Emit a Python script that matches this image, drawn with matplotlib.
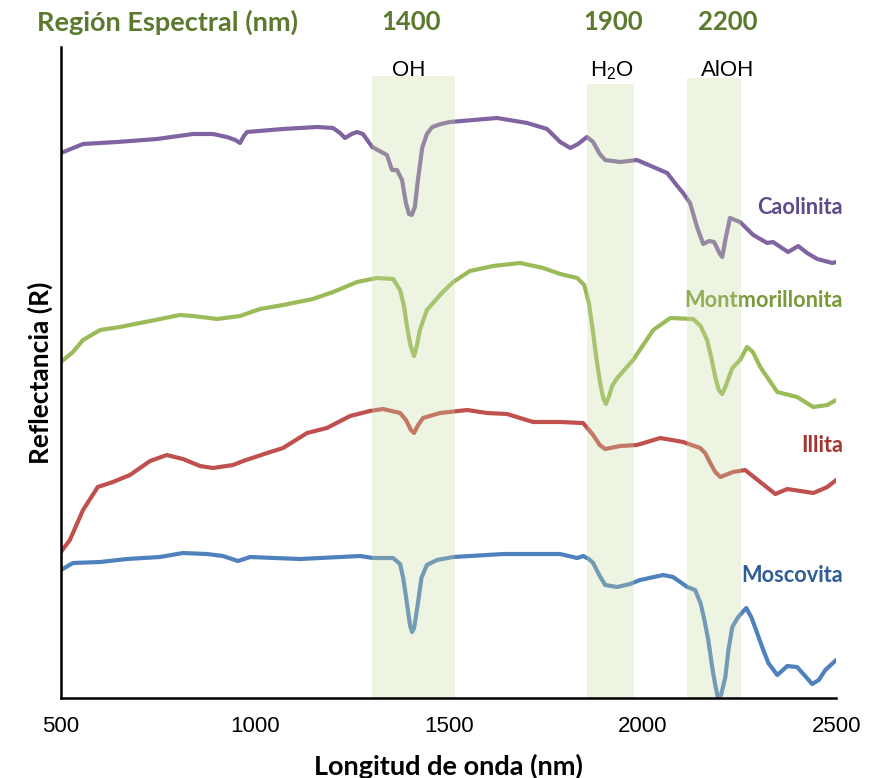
#!/usr/bin/env python3
"""Espectros de reflectancia de arcillas con regiones de absorción marcadas."""

import matplotlib
matplotlib.use("Agg")
import matplotlib.pyplot as plt

# --- datos (longitud de onda en nm, reflectancia desplazada) ---
caol_nm = [500, 557, 645, 748, 841, 892, 928, 950, 962, 972, 980, 1073, 1161, 1202,
           1220, 1233, 1250, 1264, 1279, 1303, 1341, 1354, 1367, 1380, 1390, 1398,
           1405, 1413, 1420, 1432, 1444, 1458, 1480, 1504, 1625, 1703, 1754, 1788,
           1814, 1834, 1857, 1873, 1890, 1904, 1943, 1986, 2028, 2064, 2090, 2105,
           2123, 2141, 2157, 2172, 2185, 2200, 2206, 2215, 2226, 2252, 2286, 2322,
           2337, 2360, 2376, 2402, 2425, 2451, 2490, 2500]
caol_r = [5.45, 5.54, 5.56, 5.59, 5.64, 5.64, 5.61, 5.58, 5.55, 5.62, 5.66, 5.69,
          5.71, 5.70, 5.65, 5.60, 5.64, 5.66, 5.64, 5.51, 5.43, 5.28, 5.28, 5.18,
          4.95, 4.84, 4.83, 4.91, 5.15, 5.50, 5.64, 5.71, 5.74, 5.76, 5.80, 5.75,
          5.69, 5.56, 5.50, 5.54, 5.61, 5.56, 5.44, 5.38, 5.36, 5.38, 5.31, 5.25,
          5.12, 5.05, 4.95, 4.71, 4.54, 4.57, 4.56, 4.44, 4.41, 4.60, 4.80, 4.76,
          4.63, 4.55, 4.56, 4.50, 4.46, 4.52, 4.45, 4.39, 4.35, 4.36]

mont_nm = [500, 531, 557, 601, 652, 730, 807, 841, 903, 962, 1014, 1073, 1150, 1202,
           1264, 1315, 1357, 1375, 1385, 1393, 1402, 1411, 1418, 1426, 1444, 1460,
           1485, 1512, 1555, 1615, 1685, 1744, 1788, 1832, 1850, 1862, 1873, 1882,
           1891, 1899, 1906, 1914, 1922, 1935, 1976, 2028, 2072, 2131, 2150, 2167,
           2178, 2188, 2197, 2206, 2215, 2232, 2252, 2270, 2285, 2304, 2348, 2399,
           2441, 2477, 2500]
mont_r = [3.36, 3.46, 3.58, 3.68, 3.71, 3.77, 3.83, 3.82, 3.79, 3.82, 3.89, 3.93,
          3.99, 4.06, 4.16, 4.20, 4.19, 4.08, 3.92, 3.71, 3.52, 3.42, 3.52, 3.68,
          3.88, 3.95, 4.06, 4.16, 4.27, 4.32, 4.35, 4.30, 4.24, 4.20, 4.13, 3.95,
          3.65, 3.38, 3.15, 3.00, 2.94, 3.02, 3.12, 3.20, 3.38, 3.68, 3.80, 3.79,
          3.72, 3.58, 3.40, 3.21, 3.08, 3.04, 3.12, 3.30, 3.38, 3.51, 3.46, 3.31,
          3.06, 3.01, 2.91, 2.93, 2.98]

illi_nm = [500, 523, 557, 595, 634, 678, 730, 773, 815, 859, 892, 944, 970, 1032,
           1073, 1135, 1186, 1246, 1297, 1331, 1375, 1390, 1403, 1411, 1420, 1434,
           1478, 1548, 1599, 1651, 1718, 1788, 1847, 1873, 1890, 1904, 1943, 1986,
           2046, 2105, 2149, 2162, 2175, 2188, 2201, 2234, 2265, 2304, 2343, 2374,
           2441, 2477, 2500]
illi_r = [1.46, 1.58, 1.88, 2.11, 2.16, 2.23, 2.37, 2.43, 2.39, 2.32, 2.30, 2.33,
          2.37, 2.45, 2.50, 2.65, 2.70, 2.82, 2.87, 2.89, 2.85, 2.78, 2.68, 2.65,
          2.72, 2.80, 2.85, 2.88, 2.85, 2.84, 2.76, 2.76, 2.75, 2.63, 2.53, 2.49,
          2.52, 2.53, 2.60, 2.56, 2.50, 2.45, 2.35, 2.26, 2.21, 2.26, 2.28, 2.16,
          2.04, 2.09, 2.05, 2.11, 2.18]

mosc_nm = [500, 531, 601, 670, 755, 815, 877, 918, 957, 988, 1117, 1272, 1305, 1357,
           1375, 1383, 1390, 1395, 1401, 1406, 1411, 1416, 1421, 1430, 1444, 1470,
           1512, 1641, 1788, 1832, 1847, 1862, 1873, 1890, 1904, 1935, 1968, 1994,
           2054, 2079, 2116, 2136, 2150, 2160, 2170, 2180, 2188, 2195, 2203, 2214,
           2222, 2232, 2247, 2268, 2282, 2296, 2310, 2325, 2348, 2374, 2399, 2420,
           2438, 2455, 2472, 2500]
mosc_r = [1.28, 1.35, 1.36, 1.39, 1.41, 1.45, 1.44, 1.42, 1.37, 1.41, 1.39, 1.42,
          1.40, 1.40, 1.34, 1.20, 1.02, 0.88, 0.72, 0.66, 0.70, 0.82, 0.95, 1.20,
          1.33, 1.38, 1.41, 1.44, 1.44, 1.40, 1.42, 1.39, 1.35, 1.22, 1.13, 1.11,
          1.14, 1.18, 1.23, 1.21, 1.11, 1.08, 0.95, 0.78, 0.58, 0.31, 0.13, 0.00,
          0.03, 0.21, 0.48, 0.71, 0.81, 0.90, 0.80, 0.65, 0.50, 0.35, 0.23, 0.32,
          0.31, 0.22, 0.14, 0.18, 0.28, 0.38]

series_names = ["Caolinita", "Montmorillonita", "Illita", "Moscovita"]
label_y = [4.90, 3.98, 2.53, 1.23]

band_labels = ["OH", "H$_\\mathregular{2}$O", "AlOH"]
band_centers = ["1400", "1900", "2200"]
band_start = [1302, 1857, 2115]
band_end = [1517, 1979, 2255]
band_top = [6.22, 6.14, 6.20]

x_ticks = [500, 1000, 1500, 2000, 2500]


def main():
    fig = plt.figure(figsize=(8.83, 7.78), dpi=100)
    ax = fig.add_axes([0.069, 0.1028, 0.878, 0.8368])

    line_colors = ["#8064A2", "#9BBB59", "#C0504D", "#4F81BD"]
    text_colors = ["#5E4A86", "#7A9A3A", "#A33430", "#2F5D98"]
    xs = [caol_nm, mont_nm, illi_nm, mosc_nm]
    ys = [caol_r, mont_r, illi_r, mosc_r]

    for x, y, c in zip(xs, ys, line_colors):
        ax.plot(x, y, color=c, lw=3.0, solid_capstyle="round",
                solid_joinstyle="round", zorder=2)

    for name, yy, tc in zip(series_names, label_y, text_colors):
        ax.text(2518, yy, name, color=tc, fontsize=15.7, fontweight="bold",
                family="Lato", ha="right", va="center", clip_on=False, zorder=1)

    # regiones espectrales (encima de las curvas, semitransparentes)
    for x0, x1, top in zip(band_start, band_end, band_top):
        ax.fill_between([x0, x1], 0, top, color="#C8DCA0", alpha=0.3, lw=0,
                        zorder=3, clip_on=False)

    # etiquetas de cada banda (posiciones en nm)
    lab_x = [1397, 1920, 2220]
    num_x = [1403, 1925, 2219]
    for lab, cen, lx, nx in zip(band_labels, band_centers, lab_x, num_x):
        ax.text(lx, 6.27, lab, fontsize=16, family="Liberation Sans",
                ha="center", va="center", clip_on=False)
        ax.text(nx, 6.76, cen, color="#5B7A2E", fontsize=18.5, fontweight="bold",
                family="Lato", ha="center", va="center", clip_on=False)

    fig.text(0.042, 0.971, "Región Espectral (nm)", color="#5B7A2E", fontsize=19.5,
             fontweight="bold", family="Lato", ha="left", va="center")

    ax.set_xlim(500, 2500)
    ax.set_ylim(0, 6.51)
    ax.set_xticks(x_ticks)
    ax.set_xticklabels([str(t) for t in x_ticks], fontsize=16, family="Liberation Sans")
    ax.tick_params(axis="x", length=0, pad=13)
    ax.set_yticks([])

    ax.set_xlabel("Longitud de onda (nm)", fontsize=19.5, fontweight="bold",
                  family="Lato", labelpad=12)
    ax.set_ylabel("Reflectancia (R)", fontsize=19, fontweight="bold",
                  family="Lato", labelpad=6)

    for side in ["top", "right"]:
        ax.spines[side].set_visible(False)
    ax.spines["left"].set_linewidth(1.8)
    ax.spines["bottom"].set_linewidth(1.8)
    ax.spines["bottom"].set_zorder(4)

    fig.savefig("out.png", dpi=100)


if __name__ == "__main__":
    main()
